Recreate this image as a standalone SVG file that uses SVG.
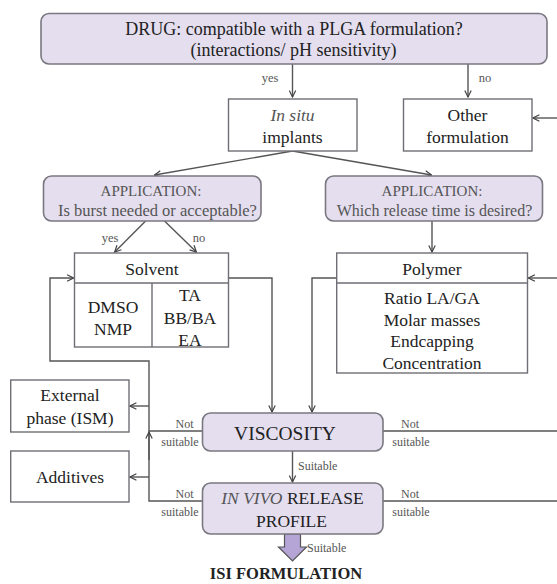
<svg xmlns="http://www.w3.org/2000/svg" width="557" height="584" viewBox="0 0 557 584">
<defs>
<marker id="ah" viewBox="0 0 10 10" refX="9" refY="5" markerWidth="8" markerHeight="8" markerUnits="userSpaceOnUse" orient="auto">
<path d="M1,1 L9,5 L1,9" fill="none" stroke="#444" stroke-width="1.5"/>
</marker>
</defs>
<style>
.q{fill:#e4deef;stroke:#7a7880;stroke-width:1.6}
.b{fill:#fff;stroke:#6e6e76;stroke-width:1.4}
.c{fill:none;stroke:#555;stroke-width:1.4}
.ca{fill:none;stroke:#555;stroke-width:1.4;marker-end:url(#ah)}
text{font-family:'Liberation Serif','Times New Roman',serif;fill:#222;text-anchor:middle}
.t18{font-size:18px}
.t17{font-size:17.5px}
.g{font-size:15px;fill:#555}
.s{font-size:12.5px;fill:#555}
.n{font-size:12px;fill:#555}
</style>
<g id="connectors">
<line class="ca" x1="292.5" y1="64" x2="292.5" y2="97"/>
<line class="ca" x1="468" y1="64" x2="468" y2="97"/>
<line class="ca" x1="557" y1="118" x2="533" y2="118"/>
<line class="ca" x1="292.5" y1="151" x2="154.5" y2="175"/>
<line class="ca" x1="292.5" y1="151" x2="431.5" y2="175"/>
<line class="ca" x1="145.6" y1="221" x2="114.7" y2="252"/>
<line class="ca" x1="164.5" y1="221" x2="196.4" y2="252"/>
<line class="ca" x1="432" y1="221" x2="432" y2="252"/>
<polyline class="ca" points="228.5,278 272,278 272,412"/>
<polyline class="ca" points="336.7,278 312,278 312,412"/>
<line class="ca" x1="557" y1="278" x2="528.5" y2="278"/>
<polyline class="ca" points="202.5,501 149,501 149,361 50,361 50,278 73.5,278"/>
<line class="ca" x1="149" y1="460" x2="149" y2="432"/>
<line class="c" x1="202.5" y1="431" x2="149" y2="431"/>
<line class="ca" x1="149" y1="406" x2="130" y2="406"/>
<line class="ca" x1="149" y1="477" x2="130" y2="477"/>
<line class="c" x1="383" y1="431" x2="557" y2="431"/>
<line class="c" x1="383" y1="501" x2="557" y2="501"/>
<line class="ca" x1="292.5" y1="451" x2="292.5" y2="482"/>
<path d="M284.5,534 L300.5,534 L300.5,547 L306.5,547 L292.5,561 L278.5,547 L284.5,547 Z" fill="#b4a5d6" stroke="#555" stroke-width="1.2"/>
<text class="s" x="270" y="82">yes</text>
<text class="s" x="485" y="82">no</text>
<text class="s" x="110" y="242">yes</text>
<text class="s" x="199" y="242">no</text>
<text class="n" x="184.5" y="428">Not</text>
<text class="n" x="180" y="446">suitable</text>
<text class="n" x="410" y="428">Not</text>
<text class="n" x="411" y="446">suitable</text>
<text class="n" x="184.5" y="498">Not</text>
<text class="n" x="180" y="516">suitable</text>
<text class="n" x="410" y="498">Not</text>
<text class="n" x="411" y="516">suitable</text>
<text class="n" x="298" y="470" style="text-anchor:start">Suitable</text>
<text class="n" x="307" y="552" style="text-anchor:start">Suitable</text>
</g>
<g id="drug">
<rect class="q" x="41" y="13.5" width="506" height="50.5" rx="8"/>
<text class="t18" x="294" y="34.5">DRUG: compatible with a PLGA formulation?</text>
<text class="t18" x="293.5" y="55.5">(interactions/ pH sensitivity)</text>
</g>
<g id="insitu">
<rect class="b" x="228.5" y="99" width="128.5" height="52"/>
<text class="t17" x="292.5" y="121" style="font-style:italic;fill:#555">In situ</text>
<text class="t17" x="292.5" y="143">implants</text>
</g>
<g id="other">
<rect class="b" x="403.5" y="99" width="128.5" height="52"/>
<text class="t17" x="467.5" y="121">Other</text>
<text class="t17" x="467.5" y="143">formulation</text>
</g>
<g id="app1">
<rect class="q" x="43.5" y="176" width="217.5" height="45" rx="8"/>
<text class="g" x="151" y="196">APPLICATION:</text>
<text class="g" x="157.5" y="215.5" style="font-size:16.5px">Is burst needed or acceptable?</text>
</g>
<g id="app2">
<rect class="q" x="325.5" y="176" width="217" height="45" rx="8"/>
<text class="g" x="432" y="196">APPLICATION:</text>
<text class="g" x="434.5" y="215.5" style="font-size:16px">Which release time is desired?</text>
</g>
<g id="solvent">
<rect class="b" x="74.5" y="253" width="154" height="94"/>
<line class="b" x1="74.5" y1="283" x2="228.5" y2="283"/>
<line class="b" x1="152" y1="283" x2="152" y2="347"/>
<text class="t17" x="152" y="275">Solvent</text>
<text class="t17" x="113" y="312.5">DMSO</text>
<text class="t17" x="113" y="335">NMP</text>
<text class="t17" x="190" y="301">TA</text>
<text class="t17" x="190" y="323.5">BB/BA</text>
<text class="t17" x="190" y="346">EA</text>
</g>
<g id="polymer">
<rect class="b" x="336.7" y="253" width="190.8" height="120"/>
<line class="b" x1="336.7" y1="283" x2="527.5" y2="283"/>
<text class="t17" x="432" y="275">Polymer</text>
<text class="t17" x="432" y="304">Ratio LA/GA</text>
<text class="t17" x="432" y="325.5">Molar masses</text>
<text class="t17" x="432" y="347">Endcapping</text>
<text class="t17" x="432" y="368.5">Concentration</text>
</g>
<g id="external">
<rect class="b" x="10.7" y="380" width="118.3" height="52"/>
<text class="t17" x="70" y="401">External</text>
<text class="t17" x="70" y="424">phase (ISM)</text>
</g>
<g id="additives">
<rect class="b" x="10.7" y="451" width="118.3" height="51"/>
<text class="t17" x="70" y="482.5">Additives</text>
</g>
<g id="viscosity">
<rect class="q" x="202.5" y="413" width="180.5" height="38" rx="8"/>
<text x="285" y="439.5" style="font-size:19.5px">VISCOSITY</text>
</g>
<g id="invivo">
<rect class="q" x="202.5" y="483" width="180.5" height="51" rx="8"/>
<text class="t17" x="292.5" y="504"><tspan style="font-style:italic;fill:#555">IN VIVO</tspan> RELEASE</text>
<text class="t17" x="291.5" y="527">PROFILE</text>
</g>
<g id="isi">
<text x="286" y="579" style="font-size:16.5px;font-weight:bold">ISI FORMULATION</text>
</g>
</svg>
